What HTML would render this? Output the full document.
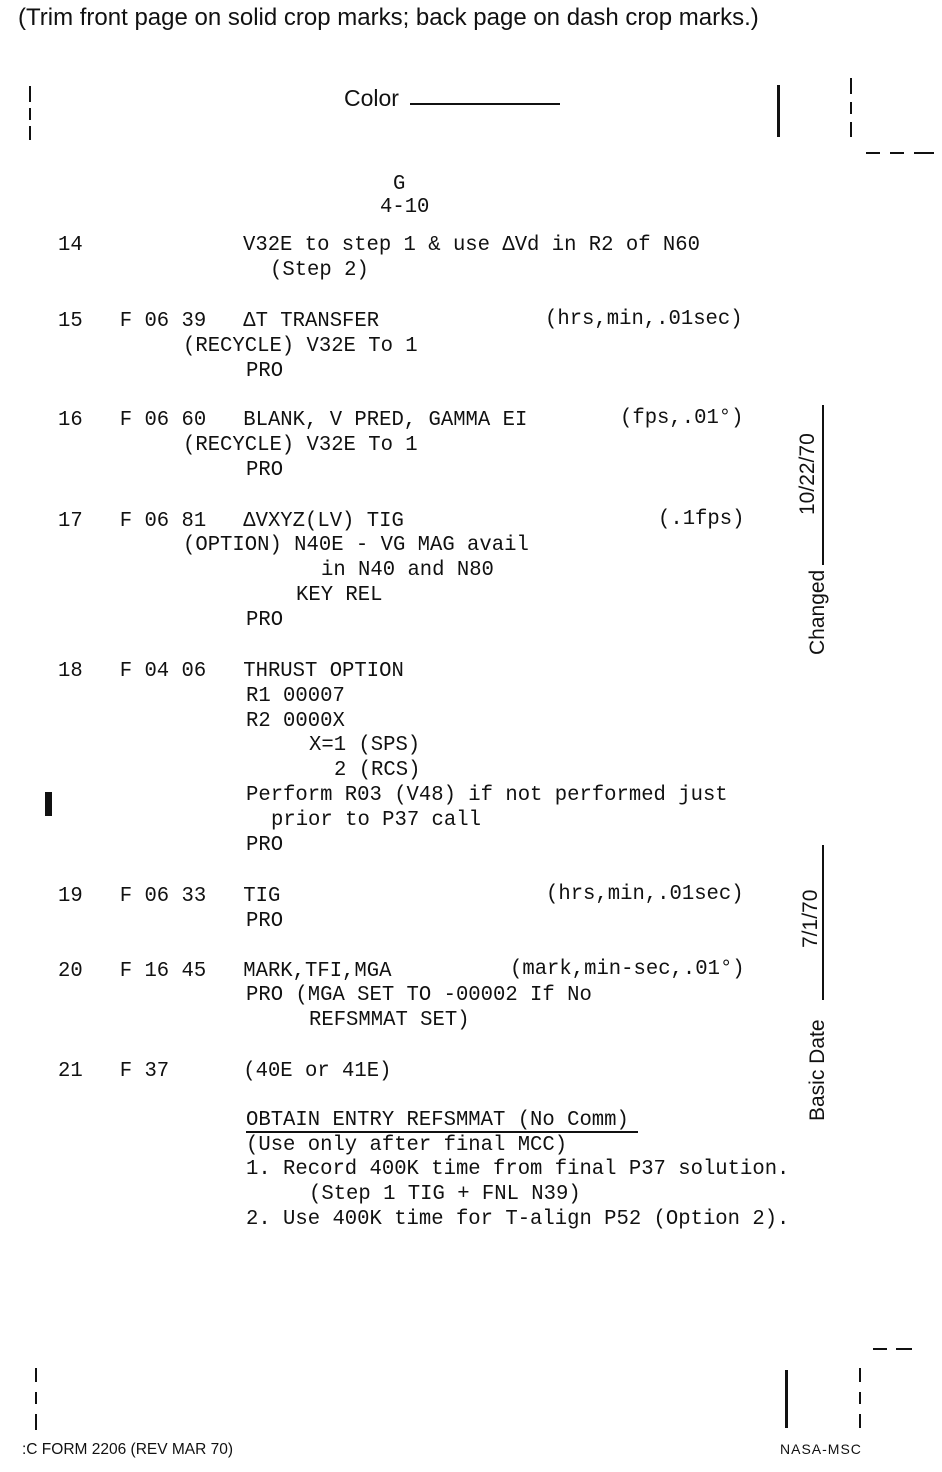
<!DOCTYPE html>
<html><head><meta charset="utf-8"><style>
body{margin:0;width:942px;height:1472px;background:#fff;position:relative;overflow:hidden;color:#111}
.t{position:absolute;font-family:"Liberation Mono",monospace;font-size:21px;line-height:25px;white-space:pre;transform:scaleX(0.98);transform-origin:left}
.s{position:absolute;font-family:"Liberation Sans",sans-serif;white-space:pre}
.l{position:absolute;background:#111}
.r{position:absolute;font-family:"Liberation Sans",sans-serif;font-size:21px;white-space:pre;transform:rotate(-90deg);transform-origin:left top}
</style></head><body>
<div class="s" style="left:18px;top:4px;font-size:24px">(Trim front page on solid crop marks; back page on dash crop marks.)</div>
<div class="s" style="left:344px;top:85px;font-size:23px">Color</div>
<div class="l" style="left:410px;top:103px;width:150px;height:2px"></div>

<div class="l" style="left:29px;top:86px;width:2px;height:16px"></div>
<div class="l" style="left:29px;top:108px;width:2px;height:12px"></div>
<div class="l" style="left:29px;top:126px;width:2px;height:14px"></div>
<div class="l" style="left:777px;top:85px;width:3px;height:52px"></div>
<div class="l" style="left:850px;top:78px;width:2px;height:16px"></div>
<div class="l" style="left:850px;top:102px;width:2px;height:12px"></div>
<div class="l" style="left:850px;top:122px;width:2px;height:15px"></div>
<div class="l" style="left:866px;top:152px;width:14px;height:2px"></div>
<div class="l" style="left:890px;top:152px;width:14px;height:2px"></div>
<div class="l" style="left:914px;top:152px;width:20px;height:2px"></div>

<div class="t" style="left:393px;top:172px">G</div>
<div class="t" style="left:380px;top:195px">4-10</div>

<div class="t" style="left:58px;top:233px">14</div>
<div class="t" style="left:243px;top:233px">V32E to step 1 &amp; use ΔVd in R2 of N60</div>
<div class="t" style="left:270px;top:258px">(Step 2)</div>

<div class="t" style="left:58px;top:309px">15   F 06 39   ΔT TRANSFER</div>
<div class="t" style="left:545px;top:307px">(hrs,min,.01sec)</div>
<div class="t" style="left:183px;top:334px">(RECYCLE) V32E To 1</div>
<div class="t" style="left:246px;top:359px">PRO</div>

<div class="t" style="left:58px;top:408px">16   F 06 60   BLANK, V PRED, GAMMA EI</div>
<div class="t" style="left:620px;top:406px">(fps,.01°)</div>
<div class="t" style="left:183px;top:433px">(RECYCLE) V32E To 1</div>
<div class="t" style="left:246px;top:458px">PRO</div>

<div class="t" style="left:58px;top:509px">17   F 06 81   ΔVXYZ(LV) TIG</div>
<div class="t" style="left:658px;top:507px">(.1fps)</div>
<div class="t" style="left:183px;top:533px">(OPTION) N40E - VG MAG avail</div>
<div class="t" style="left:321px;top:558px">in N40 and N80</div>
<div class="t" style="left:296px;top:583px">KEY REL</div>
<div class="t" style="left:246px;top:608px">PRO</div>

<div class="t" style="left:58px;top:659px">18   F 04 06   THRUST OPTION</div>
<div class="t" style="left:246px;top:684px">R1 00007</div>
<div class="t" style="left:246px;top:709px">R2 0000X</div>
<div class="t" style="left:309px;top:733px">X=1 (SPS)</div>
<div class="t" style="left:334px;top:758px">2 (RCS)</div>
<div class="l" style="left:45px;top:792px;width:7px;height:24px"></div>
<div class="t" style="left:246px;top:783px">Perform R03 (V48) if not performed just</div>
<div class="t" style="left:271px;top:808px">prior to P37 call</div>
<div class="t" style="left:246px;top:833px">PRO</div>

<div class="t" style="left:58px;top:884px">19   F 06 33   TIG</div>
<div class="t" style="left:546px;top:882px">(hrs,min,.01sec)</div>
<div class="t" style="left:246px;top:909px">PRO</div>

<div class="t" style="left:58px;top:959px">20   F 16 45   MARK,TFI,MGA</div>
<div class="t" style="left:510px;top:957px">(mark,min-sec,.01°)</div>
<div class="t" style="left:246px;top:983px">PRO (MGA SET TO -00002 If No</div>
<div class="t" style="left:309px;top:1008px">REFSMMAT SET)</div>

<div class="t" style="left:58px;top:1059px">21   F 37      (40E or 41E)</div>

<div class="t" style="left:246px;top:1108px">OBTAIN ENTRY REFSMMAT (No Comm)</div>
<div class="l" style="left:246px;top:1131px;width:392px;height:2px"></div>
<div class="t" style="left:246px;top:1133px">(Use only after final MCC)</div>
<div class="t" style="left:246px;top:1157px">1. Record 400K time from final P37 solution.</div>
<div class="t" style="left:309px;top:1182px">(Step 1 TIG + FNL N39)</div>
<div class="t" style="left:246px;top:1207px">2. Use 400K time for T-align P52 (Option 2).</div>

<div class="l" style="left:822px;top:405px;width:2px;height:160px"></div>
<div class="r" style="left:796px;top:515px">10/22/70</div>
<div class="r" style="left:806px;top:655px">Changed</div>
<div class="l" style="left:822px;top:845px;width:2px;height:155px"></div>
<div class="r" style="left:799px;top:948px">7/1/70</div>
<div class="r" style="left:806px;top:1121px">Basic Date</div>

<div class="l" style="left:35px;top:1368px;width:2px;height:14px"></div>
<div class="l" style="left:35px;top:1392px;width:2px;height:12px"></div>
<div class="l" style="left:35px;top:1414px;width:2px;height:16px"></div>
<div class="l" style="left:785px;top:1370px;width:3px;height:58px"></div>
<div class="l" style="left:859px;top:1368px;width:2px;height:14px"></div>
<div class="l" style="left:859px;top:1392px;width:2px;height:12px"></div>
<div class="l" style="left:859px;top:1414px;width:2px;height:14px"></div>
<div class="l" style="left:873px;top:1348px;width:14px;height:2px"></div>
<div class="l" style="left:896px;top:1348px;width:16px;height:2px"></div>

<div class="s" style="left:22px;top:1441px;font-size:15.5px">:C FORM 2206 (REV MAR 70)</div>
<div class="s" style="left:780px;top:1441px;font-size:14px;letter-spacing:1px">NASA-MSC</div>
</body></html>
